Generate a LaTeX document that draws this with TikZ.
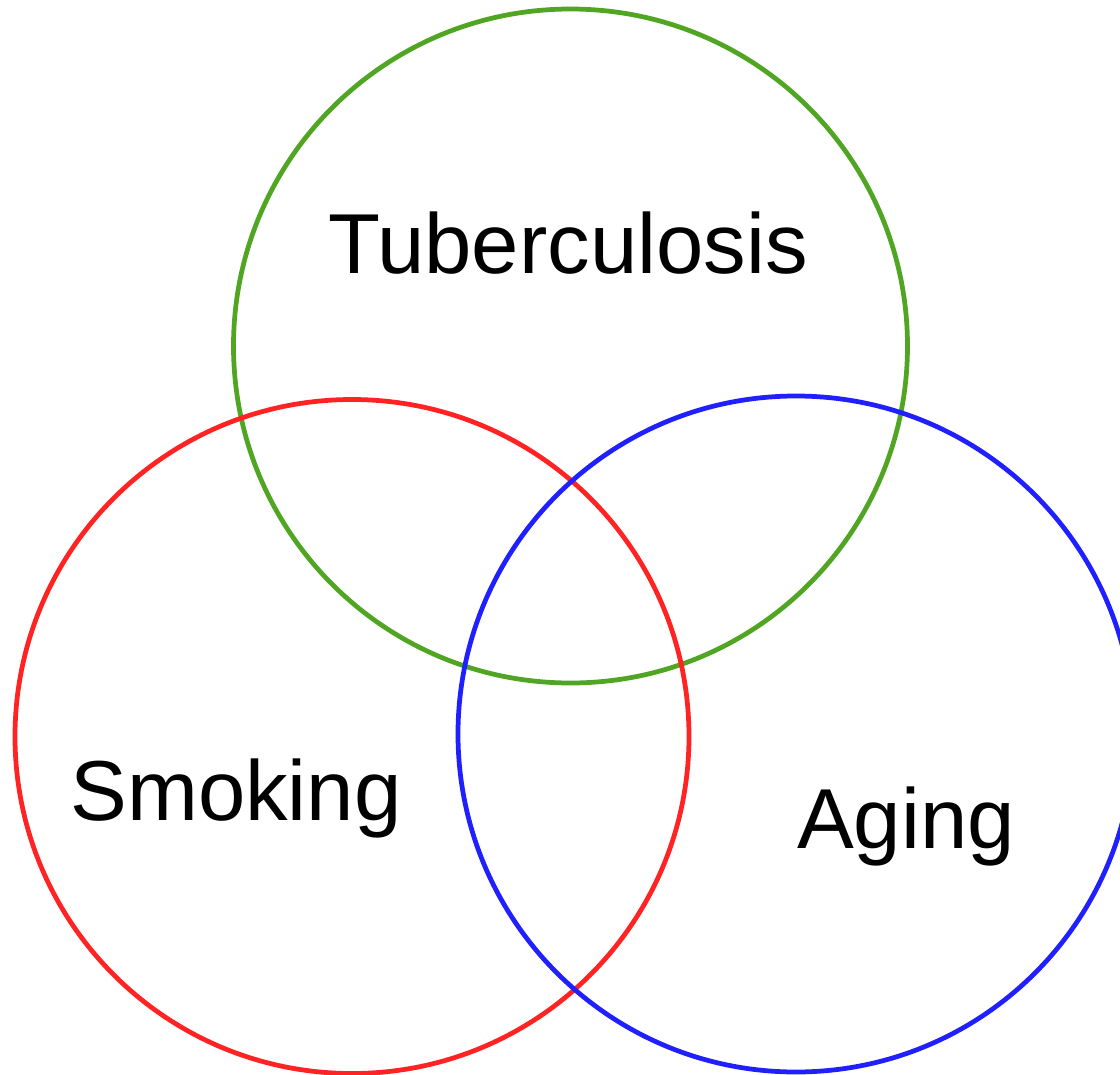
\documentclass[tikz,border=0pt]{standalone}
\usepackage{fontspec}
\setmainfont{Liberation Sans}
\usepackage{tikz}
\usetikzlibrary{positioning}
\definecolor{tbgreen}{RGB}{80,165,35}
\definecolor{smred}{RGB}{255,35,35}
\definecolor{agblue}{RGB}{32,32,255}

\begin{document}
\begin{tikzpicture}[
    x=0.01cm, y=-0.01cm,
    ring/.style={line width=1.35pt},
    lbl/.style={anchor=base, inner sep=0pt, font=\fontsize{24.2}{28}\selectfont}
]
\clip (0,0) rectangle (1120,1075);
\draw[ring, tbgreen] (570.5,346) circle[radius=337];
\draw[ring, smred] (352,736.5) circle[radius=337];
\draw[ring, agblue] (796,734) circle[radius=338];

\node[lbl] (tb) at (568,273) {Tuberculosis};
\node[lbl] (sm) at (236,820) {Smoking};
\node[lbl] (ag) at (906,848) {Aging};
\end{tikzpicture}
\end{document}
